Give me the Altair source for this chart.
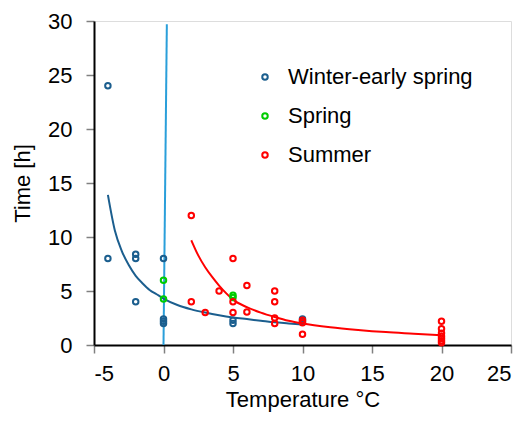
import altair as alt
import pandas as pd

# ---- data ----
winter_x = [-4, -4, -2, -2, -2, 0, 0, 0, 0, 5, 5, 10, 10]
winter_y = [24.0, 8.0, 8.4, 8.0, 4.0, 8.0, 2.4, 2.2, 2.0, 2.3, 2.0, 2.4, 2.2]

spring_x = [0, 0, 5, 5]
spring_y = [6.0, 4.25, 4.6, 4.4]

summer_x = [2, 2, 3, 4, 5, 5, 5, 6, 6, 8, 8, 8, 8, 10, 10, 10, 20, 20, 20, 20, 20, 20, 20]
summer_y = [12.0, 4.0, 3.0, 5.0, 8.0, 4.0, 3.0, 5.5, 3.05, 5.0, 4.0, 2.5, 2.0, 2.3, 2.05, 1.0,
            2.2, 1.5, 1.1, 0.8, 0.6, 0.4, 0.2]

# fitted curves
winter_fit_x = [-4, -3.5, -3, -2.5, -2, -1.5, -1, -0.5, 0, 1, 2, 3, 4, 5, 6, 7, 8, 9, 10]
winter_fit_y = [13.9, 10.6, 8.7, 7.4, 6.4, 5.7, 5.1, 4.7, 4.3, 3.7, 3.3, 3.0, 2.75, 2.55, 2.4, 2.25, 2.1, 2.0, 1.9]

summer_fit_x = [2, 2.5, 3, 3.5, 4, 4.5, 5, 6, 7, 8, 9, 10, 12, 14, 16, 18, 20]
summer_fit_y = [9.7, 8.3, 7.2, 6.3, 5.5, 4.8, 4.2, 3.5, 3.0, 2.6, 2.25, 2.0, 1.65, 1.4, 1.2, 1.05, 0.9]

spring_fit_x = [0.0, 0.24]
spring_fit_y = [0.0, 29.7]

x_ticks = [-5, 0, 5, 10, 15, 20, 25]
y_ticks = [0, 5, 10, 15, 20, 25, 30]

series = ["Winter-early spring", "Spring", "Summer"]
colors = ["#1B5E8E", "#00CC00", "#FF0000"]
light_blue = "#2A9FDA"

FONT = "Liberation Sans"

pts = pd.DataFrame({
    "T": winter_x + spring_x + summer_x,
    "h": winter_y + spring_y + summer_y,
    "season": [series[0]] * len(winter_x) + [series[1]] * len(spring_x) + [series[2]] * len(summer_x),
})

xs = alt.Scale(domain=[-5, 25], nice=False, zero=False)
ys = alt.Scale(domain=[0, 30], nice=False)

xaxis = alt.Axis(values=x_ticks, title="Temperature °C", grid=False,
                 labelExpr="'' + datum.value",
                 domainColor="black", domainWidth=2, tickColor="#808080", tickSize=8, tickWidth=1.5,
                 labelFontSize=22, labelPadding=10, labelColor="black", labelFont=FONT,
                 titleFontSize=22, titleFontWeight="normal", titleColor="black", titleFont=FONT,
                 titleX=208.5, titleY=54, titleBaseline="middle", titleAlign="center")
yaxis = alt.Axis(values=y_ticks, title="Time [h]", grid=False,
                 domainColor="black", domainWidth=2, tickColor="#808080", tickSize=8, tickWidth=1.5,
                 labelFontSize=22, labelPadding=14, labelColor="black", labelFont=FONT,
                 titleFontSize=22, titleFontWeight="normal", titleColor="black", titleFont=FONT,
                 titleX=-72, titleY=162, titleBaseline="middle", titleAlign="center")


def X():
    return alt.X("T:Q", scale=xs, axis=xaxis)


def Y():
    return alt.Y("h:Q", scale=ys, axis=yaxis)


spring_line = alt.Chart(pd.DataFrame({"T": spring_fit_x, "h": spring_fit_y})).mark_line(
    color=light_blue, strokeWidth=2).encode(x=X(), y=Y())
winter_line = alt.Chart(pd.DataFrame({"T": winter_fit_x, "h": winter_fit_y})).mark_line(
    color=colors[0], strokeWidth=2, interpolate="monotone").encode(x=X(), y=Y())
summer_line = alt.Chart(pd.DataFrame({"T": summer_fit_x, "h": summer_fit_y})).mark_line(
    color=colors[2], strokeWidth=2, interpolate="monotone").encode(x=X(), y=Y())

points = alt.Chart(pts).mark_point(shape="circle", filled=False, size=30, strokeWidth=2, opacity=1).encode(
    x=X(), y=Y(),
    color=alt.Color("season:N", scale=alt.Scale(domain=series, range=colors),
                    legend=alt.Legend(orient="none", legendX=160, legendY=45, title=None,
                                      labelFontSize=22, labelFont=FONT, labelColor="black",
                                      labelLimit=0,
                                      symbolType="circle", symbolSize=30, symbolStrokeWidth=2,
                                      rowPadding=17, labelOffset=12, padding=0, offset=0)),
)

chart = alt.layer(spring_line, winter_line, summer_line, points).properties(
    width=417, height=324,
    autosize=alt.AutoSizeParams(type="none"),
    padding={"left": 86, "top": 13, "right": 4, "bottom": 68},
).configure_view(stroke="black", strokeWidth=2).configure(font=FONT)

chart.save("out.html", embed_options={"renderer": "svg", "actions": False})
